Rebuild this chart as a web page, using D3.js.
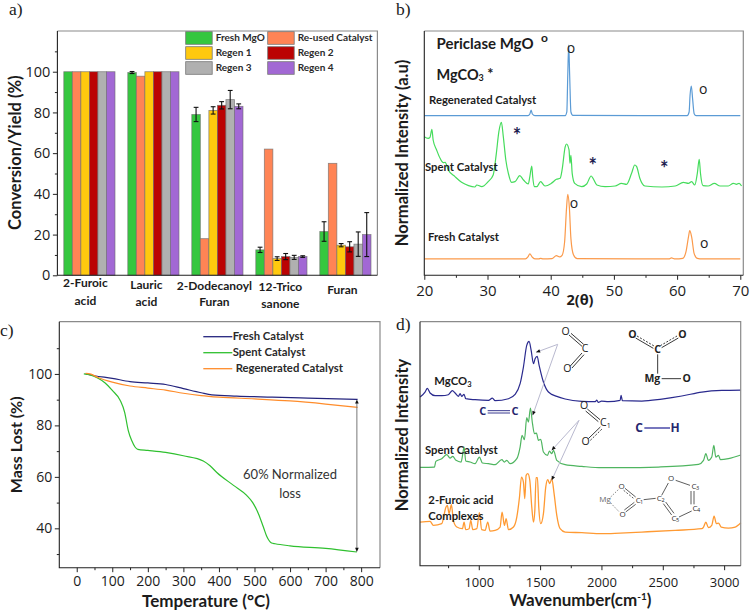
<!DOCTYPE html>
<html><head><meta charset="utf-8">
<script src="https://cdnjs.cloudflare.com/ajax/libs/d3/7.8.5/d3.min.js"></script>
<style>html,body{margin:0;padding:0;background:#fff}svg{display:block}</style></head>
<body><svg id="c" width="750" height="614"></svg>
<script>
// ---------- panel a ----------
const categories = ["2-Furoic acid","Lauric acid","2-Dodecanoyl Furan","12-Trico sanone","Furan"];
const seriesNames = ["Fresh MgO","Re-used Catalyst","Regen 1","Regen 2","Regen 3","Regen 4"];
const seriesColors = ["#35c73f","#ff8455","#ffc90e","#bb0303","#b0b0b0","#a268d4"];
const freshMgO = [100,99.6,79,12.5,21.5];
const reused   = [100,97.8,18,62,55];
const regen1   = [100,100,81,8.2,14.8];
const regen2   = [100,100,83.5,9.2,14];
const regen3   = [100,100,86.3,8.8,15.3];
const regen4   = [100,100,83,9.2,20];
const errFresh = [0,0.5,3.5,1.3,4.8];
const errReused= [0,0,0,0,0];
const errRegen1= [0,0,1.8,0.9,0.8];
const errRegen2= [0,0,1.8,1.5,2.5];
const errRegen3= [0,0,4.5,1,6];
const errRegen4= [0,0,1.2,0.4,10.8];
// ---------- panel b ----------
const xrdRegenerated = [[20,479],[36.4,479],[36.7,484],[36.9,496],[37.1,484],[37.5,479],[42.3,479],[42.55,490],[42.7,600],[42.85,691],[43,600],[43.2,490],[43.5,480],[61.6,479],[61.9,490],[62.05,540],[62.25,568],[62.45,530],[62.7,485],[63,479],[70,479]];
const xrdSpent = [[20,416],[20.6,411],[20.9,414],[21.2,438],[21.4,406],[21.95,376],[22.5,351],[23,338],[23.3,339],[23.8,316],[24.85,296],[25.9,279],[27,269],[28,265],[28.3,271],[29.1,266],[30.1,281],[30.9,301],[31.4,366],[31.8,431],[32.2,459],[32.5,416],[32.9,346],[33.3,306],[33.8,279],[34.35,281],[35.1,299],[35.7,286],[36.45,274],[36.7,296],[37,328],[37.15,296],[37.4,266],[37.8,266],[38.4,281],[39.1,268],[40.1,276],[40.9,288],[41.5,291],[41.8,316],[42.3,386],[42.5,394],[42.9,376],[43.05,336],[43.2,360],[43.4,306],[43.8,276],[44.9,266],[45.7,274],[46.4,298],[46.7,291],[47.3,271],[48.6,266],[50.2,268],[51.2,276],[52,273],[52.8,306],[53.3,331],[53.6,326],[54.1,291],[54.9,268],[57.6,265],[59.7,268],[61,279],[61.8,276],[62.3,281],[62.8,271],[63.2,306],[63.5,348],[63.7,306],[64.1,269],[64.9,268],[65.9,276],[66.8,268],[68.1,268],[68.9,276],[69.4,273],[69.8,276],[70.2,268]];
const xrdFresh = [[20,49],[36,49],[36.4,55],[36.7,64],[37.1,54],[37.6,49],[38.1,49],[38.4,51],[38.8,49],[40.2,50],[40.9,59],[41.4,55],[41.8,60],[42.2,100],[42.5,200],[42.7,243],[42.95,205],[43.2,110],[43.6,62],[44.2,50],[58.7,49],[59.1,52],[59.7,49],[60.9,51],[61.4,70],[61.8,115],[62,134],[62.3,115],[62.7,65],[63.2,51],[64,49],[70,49]];
// ---------- panel c ----------
const tgaFresh = [[25,100],[50,99.3],[100,98.3],[150,97],[200,96.5],[250,95.9],[300,94.3],[350,92.7],[380,91.9],[450,91.4],[550,91],[650,90.6],[790,90.1]];
const tgaSpent = [[20,100],[40,99.5],[60,98.3],[80,96.5],[100,93.6],[122,89.8],[135,85],[145,78],[155,74],[164,71.6],[172,70.7],[200,70.3],[250,69.5],[300,68.2],[356,66.2],[375,64.3],[394,61.7],[441,56.7],[478,52.8],[495,50],[511,45.7],[525,40.5],[535,36.7],[548,34.3],[558,34],[600,33.2],[700,32.2],[788,30.8]];
const tgaRegenerated = [[25,100.2],[40,99.9],[60,98.6],[100,96.8],[150,95.3],[200,94.5],[250,93.7],[300,92.5],[350,91.6],[400,91],[500,90.3],[600,89.5],[700,88.3],[790,87]];
const tgaDomainX=[-49,853], tgaDomainY=[24.7,120.3];
// ---------- panel d ----------
const ftirMgCO3 = [[522,506],[562,521],[581,532],[603,518],[644,510],[698,510],[752,513],[785,525],[807,518],[834,508],[848,516],[861,508],[880,514],[894,501],[970,498],[1079,496],[1111,503],[1133,495],[1242,501],[1296,514],[1337,546],[1364,596],[1391,661],[1410,673],[1427,646],[1446,606],[1459,621],[1476,628],[1492,601],[1527,551],[1568,521],[1636,508],[1704,500],[1840,493],[1950,492],[1962,497],[1975,490],[2000,494],[2057,492],[2152,496],[2160,511],[2171,495],[2329,494],[2492,500],[2655,509],[2818,521],[2981,526],[3136,527]];
const ftirSpent = [[522,295],[639,296],[650,313],[698,321],[739,333],[766,323],[788,328],[815,316],[856,311],[870,336],[880,356],[894,314],[929,311],[970,306],[1005,326],[1030,308],[1079,306],[1133,303],[1188,318],[1209,311],[1228,316],[1255,306],[1310,321],[1337,356],[1353,391],[1372,378],[1391,444],[1405,431],[1421,473],[1438,426],[1454,396],[1470,398],[1486,376],[1505,379],[1527,341],[1560,331],[1576,344],[1595,336],[1609,346],[1636,316],[1704,303],[1840,298],[2003,294],[2166,294],[2465,296],[2791,304],[2832,316],[2851,336],[2872,316],[2899,326],[2916,361],[2932,326],[2954,331],[2970,318],[3035,321],[3136,332]];
const ftirComplex = [[522,131],[603,133],[630,121],[698,126],[733,176],[744,181],[758,156],[777,183],[793,136],[821,116],[867,111],[880,131],[894,108],[921,111],[935,136],[951,108],[984,111],[1005,159],[1024,108],[1052,106],[1073,131],[1092,104],[1133,106],[1174,116],[1190,161],[1209,121],[1223,141],[1242,108],[1283,116],[1310,146],[1332,206],[1348,266],[1364,251],[1375,201],[1386,271],[1400,276],[1416,256],[1432,176],[1446,131],[1457,166],[1467,264],[1478,264],[1489,176],[1505,126],[1527,156],[1546,236],[1562,258],[1579,246],[1595,261],[1614,216],[1636,151],[1663,111],[1704,101],[1840,99],[2003,96],[2152,98],[2329,101],[2600,106],[2818,111],[2832,116],[2851,131],[2872,114],[2899,121],[2918,149],[2937,126],[2954,128],[2976,116],[3035,113],[3090,116],[3136,129]];

const svg=d3.select("#c");
const SANS="Lato, 'Open Sans', sans-serif", NUM="'Open Sans', sans-serif", SERIF="'Liberation Serif', serif";
const INK="#1c1c1c";
function t(x,y,s,o={}){
  const e=svg.append("text").attr("x",x).attr("y",y).text(s)
    .attr("font-family",o.f||SANS).attr("font-size",o.s||12).attr("font-weight",o.w||"normal")
    .attr("fill",o.c||INK).attr("text-anchor",o.a||"start").attr("dominant-baseline","middle");
  if(o.r!==undefined)e.attr("transform",`rotate(${o.r} ${x} ${y})`);
  return e;
}
function frame(l,tp,r,b){
  svg.append("path").attr("d",`M${l},${tp}H${r}V${b}`).attr("fill","none").attr("stroke","#8a8a8a").attr("stroke-width",1.2);
}
function axes(l,tp,r,b,x,y,xT,xM,yT,yM,fs,xp){
  frame(l,tp,r,b);
  const gx=svg.append("g").attr("transform",`translate(0,${b})`);
  const gy=svg.append("g").attr("transform",`translate(${l},0)`);
  if(xM) gx.append("g").call(d3.axisBottom(x).tickValues(xM).tickSize(2.5).tickFormat("")).call(st);
  if(xT) gx.append("g").call(d3.axisBottom(x).tickValues(xT).tickSize(4.5).tickPadding(xp||3).tickFormat(d3.format("d"))).call(st);
  if(yM) gy.append("g").call(d3.axisLeft(y).tickValues(yM).tickSize(2.5).tickFormat("")).call(st);
  if(yT) gy.append("g").call(d3.axisLeft(y).tickValues(yT).tickSize(4.5).tickPadding(2.5).tickFormat(d3.format("d"))).call(st);
  svg.append("path").attr("d",`M${l},${tp}V${b}H${r}`).attr("fill","none").attr("stroke","#222").attr("stroke-width",1.1);
  function st(g){g.select(".domain").remove();g.selectAll("line").attr("stroke","#222");
    g.selectAll("text").attr("font-family",NUM).attr("font-size",fs||14.5).attr("fill",INK);}
}
function curve(data,x,y,color,w,cv){
  svg.append("path").datum(data).attr("fill","none").attr("stroke",color).attr("stroke-width",w||1.2)
    .attr("stroke-linejoin","round")
    .attr("d",d3.line().x(d=>x(d[0])).y(d=>y(d[1])).curve(cv||d3.curveMonotoneX));
}
const seg=(x1,y1,x2,y2,c,w,dash)=>{const l=svg.append("line").attr("x1",x1).attr("y1",y1).attr("x2",x2).attr("y2",y2).attr("stroke",c).attr("stroke-width",w||1);if(dash)l.attr("stroke-dasharray",dash);return l;};
function head(x,y,ang,c,sz){
  const s=sz||3.5;
  svg.append("path").attr("d",`M0,0L${-s*1.6},${-s*.7}L${-s*1.6},${s*.7}Z`).attr("fill",c||"#111")
    .attr("transform",`translate(${x},${y}) rotate(${ang})`);
}
function arrow(x1,y1,x2,y2,c){
  seg(x1,y1,x2,y2,c,1);
  head(x2,y2,Math.atan2(y2-y1,x2-x1)*180/Math.PI,"#111",2.6);
}

// ===== a =====
{
  const L=57.4,T=31,R=377.4,B=275.3;
  const x0=d3.scaleBand().domain(categories).range([L,R]).paddingInner(.2).paddingOuter(.1);
  const x1=d3.scaleBand().domain(seriesNames).range([0,x0.bandwidth()]);
  const y=d3.scaleLinear().domain([0,120]).range([B,T]);
  const vals=[freshMgO,reused,regen1,regen2,regen3,regen4];
  const errs=[errFresh,errReused,errRegen1,errRegen2,errRegen3,errRegen4];
  seriesNames.forEach((s,i)=>{
    svg.append("g").selectAll("rect").data(categories).join("rect")
      .attr("x",c=>x0(c)+x1(s)).attr("width",x1.bandwidth())
      .attr("y",(c,k)=>y(vals[i][k])).attr("height",(c,k)=>B-y(vals[i][k]))
      .attr("fill",seriesColors[i]).attr("stroke","#6d6d6d").attr("stroke-opacity",.75).attr("stroke-width",.8);
  });
  seriesNames.forEach((s,i)=>{
    categories.forEach((c,k)=>{
      const e=errs[i][k]; if(!e)return;
      const cx=x0(c)+x1(s)+x1.bandwidth()/2, v=vals[i][k];
      seg(cx,y(v+e),cx,y(v-e),"#111",1.1);
      seg(cx-2.4,y(v+e),cx+2.4,y(v+e),"#111",1.1);
      seg(cx-2.4,y(v-e),cx+2.4,y(v-e),"#111",1.1);
    });
  });
  axes(L,T,R,B,d3.scaleLinear(),y,null,null,[0,20,40,60,80,100],[10,30,50,70,90,110]);
  const lx=[185.7,267.7], ly=[31.7,46.7,61.7];
  seriesNames.forEach((s,i)=>{
    const col=i%2,row=Math.floor(i/2);
    svg.append("rect").attr("x",lx[col]).attr("y",ly[row]).attr("width",26.5).attr("height",12.6)
      .attr("fill",seriesColors[i]).attr("stroke","#777").attr("stroke-width",.8);
    t(lx[col]+30,ly[row]+6.5,s,{s:10,w:700,c:"#2a2a2a"});
  });
  const catLines=[["2-Furoic","acid"],["Lauric","acid"],["2-Dodecanoyl","Furan"],["12-Trico","sanone"],["Furan"]];
  const catY=[[283.7,301.7],[285.7,302.5],[286.7,302.7],[287.5,304.5],[291]];
  catLines.forEach((ls,i)=>ls.forEach((s,j)=>t(x0(categories[i])+x0.bandwidth()/2-(i==0?4:i==1?7:i==2?3:i==3?1:3),catY[i][j],s,{s:12,w:700,a:"middle"})));
  t(17,152.7,"Conversion/Yield (%)",{s:16.5,w:700,a:"middle",r:-90});
  t(9,10.5,"a)",{f:SERIF,s:17.5});
}
// ===== b =====
{
  const L=424.3,T=31,R=743.3,B=275.3;
  const x=d3.scaleLinear().domain([20,70]).range([424.3,740.3]);
  const y=d3.scaleLinear().domain([0,733]).range([B,T]);
  curve(xrdRegenerated,x,y,"#5b9bd5",1.2);
  curve(xrdSpent,x,y,"#45dc5c",1.2);
  curve(xrdFresh,x,y,"#fb9a4b",1.2);
  axes(L,T,R,B,x,y,[20,30,40,50,60,70],[25,35,45,55,65],null,null,15,6);
  t(404,153,"Normalized Intensity (a.u)",{s:16.5,w:700,a:"middle",r:-90});
  t(580,301,"2(θ)",{s:14.5,w:700,a:"middle",f:NUM});
  t(396,10.5,"b)",{f:SERIF,s:17.5});
  t(436.5,45.5,"Periclase MgO",{s:15,w:700});
  t(541,39,"o",{s:12,w:700});
  const mg=t(436.5,76,"MgCO",{s:14.5,w:700});
  mg.append("tspan").text("3").attr("font-size",9).attr("dy",3);
  mg.append("tspan").text(" *").attr("dy",-4);
  t(429,101,"Regenerated Catalyst",{s:11.3,w:700});
  t(425,168.3,"Spent Catalyst",{s:11.3,w:700});
  t(428,238,"Fresh Catalyst",{s:11.3,w:700});
  [[571,49],[703.3,90],[574,204.5],[704.3,244.5]].forEach(p=>t(p[0],p[1],"o",{s:14,a:"middle",f:NUM}));
  [[517,138],[592.7,168],[664.3,171]].forEach(p=>t(p[0],p[1],"*",{s:20,w:700,a:"middle",c:"#1c1c50"}));
}
// ===== c =====
{
  const L=59.3,T=321.7,R=380,B=567.7;
  const x=d3.scaleLinear().domain(tgaDomainX).range([L,R]);
  const y=d3.scaleLinear().domain(tgaDomainY).range([B,T]);
  curve(tgaFresh,x,y,"#24247e",1.2);
  curve(tgaSpent,x,y,"#2fc02f",1.2);
  curve(tgaRegenerated,x,y,"#ff8c2a",1.2);
  axes(L,T,R,B,x,y,[0,100,200,300,400,500,600,700,800],[50,150,250,350,450,550,650,750],[40,60,80,100],[30,50,70,90,110],14,4);
  const ax=x(788);
  seg(ax,y(90.1)+2,ax,y(30.8)-2,"#777",1);
  head(ax,y(90.1),-90,"#111",2.6); head(ax,y(30.8),90,"#111",2.6);
  [["Fresh Catalyst","#24247e",336.7,232.7],["Spent Catalyst","#2fc02f",352.7,232.7],["Regenerated Catalyst","#ff8c2a",368.7,235.7]].forEach(d=>{
    seg(203.3,d[2],232.3,d[2],d[1],1.3);
    t(d[3],d[2]+.5,d[0],{s:11.3,w:700,c:"#2a2a2a"});
  });
  t(290,476,"60% Normalized",{s:13,a:"middle",c:"#333"});
  t(290,494.7,"loss",{s:13,a:"middle",c:"#333"});
  t(18,444.8,"Mass Lost (%)",{s:16,w:700,a:"middle",r:-90});
  t(206,602.5,"Temperature (°C)",{s:17,w:700,a:"middle"});
  t(0,332,"c)",{f:SERIF,s:17.5});
}
// ===== d =====
{
  const L=420,T=321.7,R=740.7,B=565.7;
  const x=d3.scaleLinear().domain([521,3135]).range([L,R]);
  const y=d3.scaleLinear().domain([0,732]).range([B,T]);
  curve(ftirMgCO3,x,y,"#2a2a8e",1.2);
  curve(ftirSpent,x,y,"#4fb560",1.2);
  curve(ftirComplex,x,y,"#ff9a33",1.3);
  axes(L,T,R,B,x,y,[1000,1500,2000,2500,3000],[750,1250,1750,2250,2750],null,null,13,7.5);
  t(404,435,"Normalized Intensity",{s:16.5,w:700,a:"middle",r:-90});
  t(396,326,"d)",{f:SERIF,s:17.5});
  const wn=t(580.3,602,"Wavenumber(cm",{s:17,w:700,a:"middle"});
  wn.append("tspan").text("-1").attr("font-size",10).attr("dy",-5);
  wn.append("tspan").text(")").attr("dy",5);
  const Z=(a,b)=>[375+a/3,307+b/3];
  const L2=(a,b,c,d,col,w,dash)=>{const p=Z(a,b),q=Z(c,d);return seg(p[0],p[1],q[0],q[1],col,w,dash);};
  const TX=(a,b,s,o)=>{const p=Z(a,b);return t(p[0],p[1],s,o);};
  const AR=(a,b,c,d)=>{const p=Z(a,b),q=Z(c,d);arrow(p[0],p[1],q[0],q[1],"#b9b9cf");};
  AR(548,112,483,136);AR(548,112,473,325);AR(612,340,530,430);AR(612,340,530,520);
  // labels
  const mg=TX(178,224,"MgCO",{s:11.3,w:700});
  mg.append("tspan").text("3").attr("font-size",7.5).attr("dy",3);
  TX(150,432,"Spent Catalyst",{s:11.3,w:700});
  TX(160,581,"2-Furoic acid",{s:11.3,w:700});
  TX(160,631,"Complexes",{s:11.3,w:700});
  // CO2 top
  const a1={s:10.5,a:"middle",f:NUM,c:"#222"};
  TX(572,75,"O",a1);TX(630,127,"C",a1);TX(577,187,"O",a1);
  L2(582,84,621,118,"#222",.9);L2(588,79,626,112,"#222",.9);
  L2(585,178,621,138,"#222",.9);L2(591,183,627,143,"#222",.9);
  // Mg carbonate
  const a2={s:10.5,a:"middle",f:NUM,w:700,c:"#222"};
  TX(772,85,"O",a2);TX(848,130,"C",a2);TX(922,85,"O",a2);
  TX(832,217,"Mg",a2);TX(935,217,"O",a2);
  L2(782,93,835,124,"#222",.9);L2(786,87,839,118,"#222",.9,"2,1.5");
  L2(860,122,910,93,"#222",.9);L2(856,116,906,87,"#222",.9,"2,1.5");
  L2(848,142,848,200,"#222",.9);L2(860,215,918,215,"#222",.9);
  // C=C
  const a3={s:11,a:"middle",w:700,f:NUM,c:"#26266e"};
  TX(323,316,"C",a3);TX(420,316,"C",a3);
  L2(338,311,405,311,"#3a3a90",1);L2(338,318,405,318,"#3a3a90",1);
  // C-H
  const a4={s:12,a:"middle",w:700,f:NUM,c:"#26266e"};
  TX(792,364,"C",a4);TX(900,364,"H",a4);L2(808,363,885,363,"#4a4aa8",1.5);
  // C1 carboxyl
  TX(627,297,"O",a1);TX(685,350,"C",a1);TX(701,358,"1",{s:7,a:"middle",f:NUM});TX(632,405,"O",a1);
  L2(637,306,675,338,"#222",.9);L2(632,312,670,344,"#222",.9);
  L2(640,395,676,360,"#222",.9);L2(646,400,682,365,"#222",.9,"2,1.5");
  // furoate
  const a5={s:8,a:"middle",f:NUM,c:"#333"};
  TX(690,578,"Mg",{s:8,a:"middle",f:NUM,c:"#666"});
  TX(740,540,"O",a5);TX(743,623,"O",a5);TX(790,582,"C",a5);TX(800,588,"1",{s:5.5,a:"middle",f:NUM});
  TX(853,577,"C",a5);TX(864,582,"2",{s:5.5,a:"middle",f:NUM});
  TX(888,517,"O",a5);TX(957,540,"C",a5);TX(968,544,"3",{s:5.5,a:"middle",f:NUM});
  TX(960,605,"C",a5);TX(971,610,"4",{s:5.5,a:"middle",f:NUM});
  TX(897,636,"C",a5);TX(908,640,"5",{s:5.5,a:"middle",f:NUM});
  L2(707,570,732,546,"#666",.8,"1.5,1.5");L2(707,588,733,615,"#666",.8,"1.5,1.5");
  L2(750,544,782,570,"#333",.8);L2(746,550,778,576,"#333",.8,"2,1.5");
  L2(752,615,782,592,"#333",.8);L2(748,609,778,586,"#333",.8);
  L2(806,578,842,574,"#333",.8);L2(860,565,880,528,"#333",.8);
  L2(902,520,945,535,"#333",.8);L2(957,552,957,592,"#333",.8);L2(948,552,948,592,"#333",.8);
  L2(950,612,912,630,"#333",.8);L2(865,590,890,624,"#333",.8);L2(872,585,897,619,"#333",.8);
}
</script></body></html>
